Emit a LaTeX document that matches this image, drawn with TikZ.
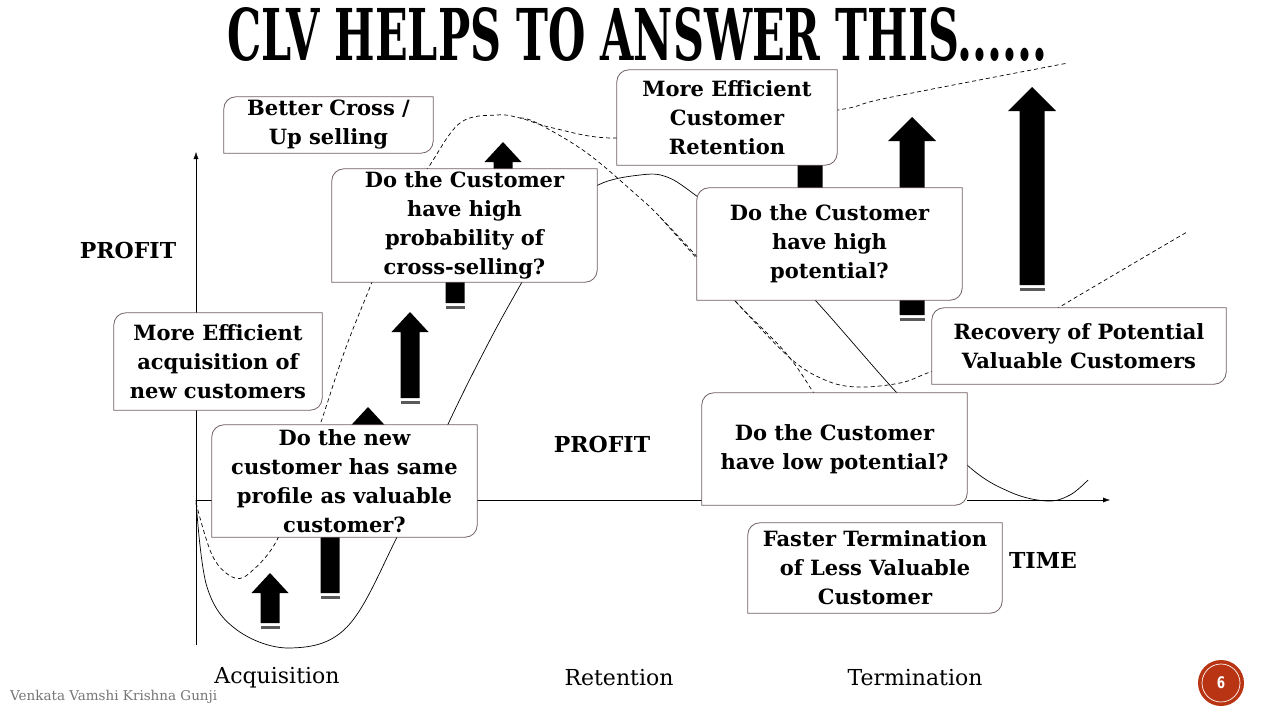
\documentclass[tikz,border=0pt]{standalone}
\usepackage{fontspec}
\usepackage{graphicx}
\usetikzlibrary{arrows.meta}
\newfontfamily\boxfont{DejaVu Serif}
\newfontfamily\numfont[FakeStretch=0.75]{DejaVu Sans}
\definecolor{framegray}{RGB}{112,96,96}
\definecolor{badgered}{RGB}{184,52,18}
\definecolor{footgray}{RGB}{118,118,118}
\definecolor{bargray}{RGB}{90,90,90}
\tikzset{
  qbox/.style={fill=white, inner sep=0pt, align=center, font=\boxfont\bfseries\fontsize{21}{29}\selectfont},
  boxline/.style={draw=framegray, line width=0.8pt},
  axislabel/.style={font=\boxfont\bfseries\fontsize{22}{26}\selectfont},
  phase/.style={font=\boxfont\fontsize{22}{26}\selectfont},
  trend/.style={line width=0.7pt},
  trenddash/.style={line width=0.7pt, dash pattern=on 4pt off 3pt},
}
\begin{document}
\begin{tikzpicture}[x=1pt,y=-1pt]
  \fill[white] (0,0) rectangle (1280,720);
  \useasboundingbox (0,0) rectangle (1280,720);
  % title
  \node[anchor=base west, inner sep=0pt] (title) at (227,60) {\resizebox{820pt}{53pt}{\boxfont\bfseries CLV HELPS TO ANSWER THIS......}};
  % axes
  \coordinate (origin) at (196,500);
  \coordinate (ytop) at (196,152);
  \coordinate (ybase) at (196,645);
  \coordinate (xend) at (1110,500);
  \draw[-{Latex[length=7pt,width=5pt]}] (ybase) -- (ytop);
  \draw[-{Latex[length=7pt,width=5pt]}] (origin) -- (xend);
  % profit curves
  \draw[trend] plot[smooth, tension=0.6] coordinates {(196,500) (207,587) (237,630) (290,648) (347,627) (397,537) (450,420) (490,340) (522,282) (560,215) (598,185) (640,175) (667,177) (698,197) (760,245) (815,300) (897,393) (967,465) (1010,492) (1047,501) (1070,495) (1088,480)};
  \draw[trenddash] plot[smooth, tension=0.6] coordinates {(196,503) (213,557) (235,578) (253,570) (277,540) (300,480) (320,425) (345,350) (372,282) (400,210) (428,168) (460,123) (497,115) (520,118) (553,128) (613,138) (700,128) (838,110) (887,98) (1068,63)};
  \draw[trenddash] plot[smooth, tension=0.6] coordinates {(520,118) (537,123) (587,153) (640,198) (660,217) (700,260) (737,303) (785,352) (813,392) (825,415)};
  \draw[trenddash] plot[smooth, tension=0.6] coordinates {(660,217) (700,262) (737,303) (790,358) (825,380) (857,387) (900,383) (930,372) (1000,345) (1058,308) (1187,232)};
  % block arrows
  \foreach \xa/\ya/\yb/\sw/\hw/\hl in {270/573/623/9.5/18.5/20, 330/450/593/9.5/18.5/20, 368/407/500/9.5/18.5/20,
      410/312/398/9.5/18.5/20, 455/200/303/9.5/18.5/20, 503/142/250/9.5/18.5/20,
      810/139/250/12.5/24/24, 912/117/315/12.5/24/24, 1032/87/285/12.5/24/24} {
    \fill ({\xa-\sw},\yb) -- ({\xa-\sw},{\ya+\hl}) -- ({\xa-\hw},{\ya+\hl}) -- (\xa,\ya)
      -- ({\xa+\hw},{\ya+\hl}) -- ({\xa+\sw},{\ya+\hl}) -- ({\xa+\sw},\yb) -- cycle;
    \fill[bargray] ({\xa-\sw},{\yb+3}) rectangle ({\xa+\sw},{\yb+5.5});
  }
  % question and goal boxes
  \node[qbox, minimum width=209pt, minimum height=56pt] (crosssell) at (328.5,125) {Better Cross /\\Up selling};
  \node[qbox, minimum width=265pt, minimum height=113pt] (crossprob) at (464.5,225.5) {Do the Customer\\have high\\probability of\\cross-selling?};
  \node[qbox, minimum width=208pt, minimum height=97pt] (acquire) at (218,361.5) {More Efficient\\acquisition of\\new customers};
  \node[qbox, minimum width=265pt, minimum height=112pt] (newprofile) at (344.5,481) {Do the new\\customer has same\\profile as valuable\\customer?};
  \node[qbox, minimum width=220pt, minimum height=95pt] (retain) at (727,117.5) {More Efficient\\Customer\\Retention};
  \node[qbox, minimum width=265pt, minimum height=112pt] (highpot) at (829.5,244) {Do the Customer\\have high\\potential?};
  \node[qbox, minimum width=294pt, minimum height=76pt] (recover) at (1079,346) {Recovery of Potential\\Valuable Customers};
  \node[qbox, minimum width=265pt, minimum height=112pt] (lowpot) at (834.5,449) {Do the Customer\\have low potential?};
  \node[qbox, minimum width=254pt, minimum height=90pt] (terminate) at (875,568) {Faster Termination\\of Less Valuable\\Customer};
  \foreach \n in {crosssell,crossprob,acquire,newprofile,retain,highpot,recover,lowpot,terminate}
    \draw[boxline] (\n.south west) -- ([yshift=-12pt]\n.north west) arc[start angle=180,end angle=90,radius=12pt]
      -- (\n.north east) -- ([yshift=12pt]\n.south east) arc[start angle=0,end angle=-90,radius=12pt] -- cycle;
  % labels
  \node[axislabel] (yprofit) at (128,250) {PROFIT};
  \node[axislabel] (midprofit) at (602,444) {PROFIT};
  \node[axislabel] (timelabel) at (1043,560) {TIME};
  \node[phase] (acqphase) at (277,678) {Acquisition};
  \node[phase] (retphase) at (619,678) {Retention};
  \node[phase] (termphase) at (915,678) {Termination};
  \node[anchor=west, inner sep=0pt, text=footgray, font=\boxfont\fontsize{13.5}{15}\selectfont] (author) at (10,697) {Venkata Vamshi Krishna Gunji};
  % page badge
  \node[circle, fill=badgered, minimum size=46pt, inner sep=0pt, text=white, font=\numfont\bfseries\fontsize{16}{16}\selectfont] (badge) at (1221,683) {6};
  \draw[white, line width=0.7pt] (badge.center) circle[radius=19pt];
\end{tikzpicture}
\end{document}
